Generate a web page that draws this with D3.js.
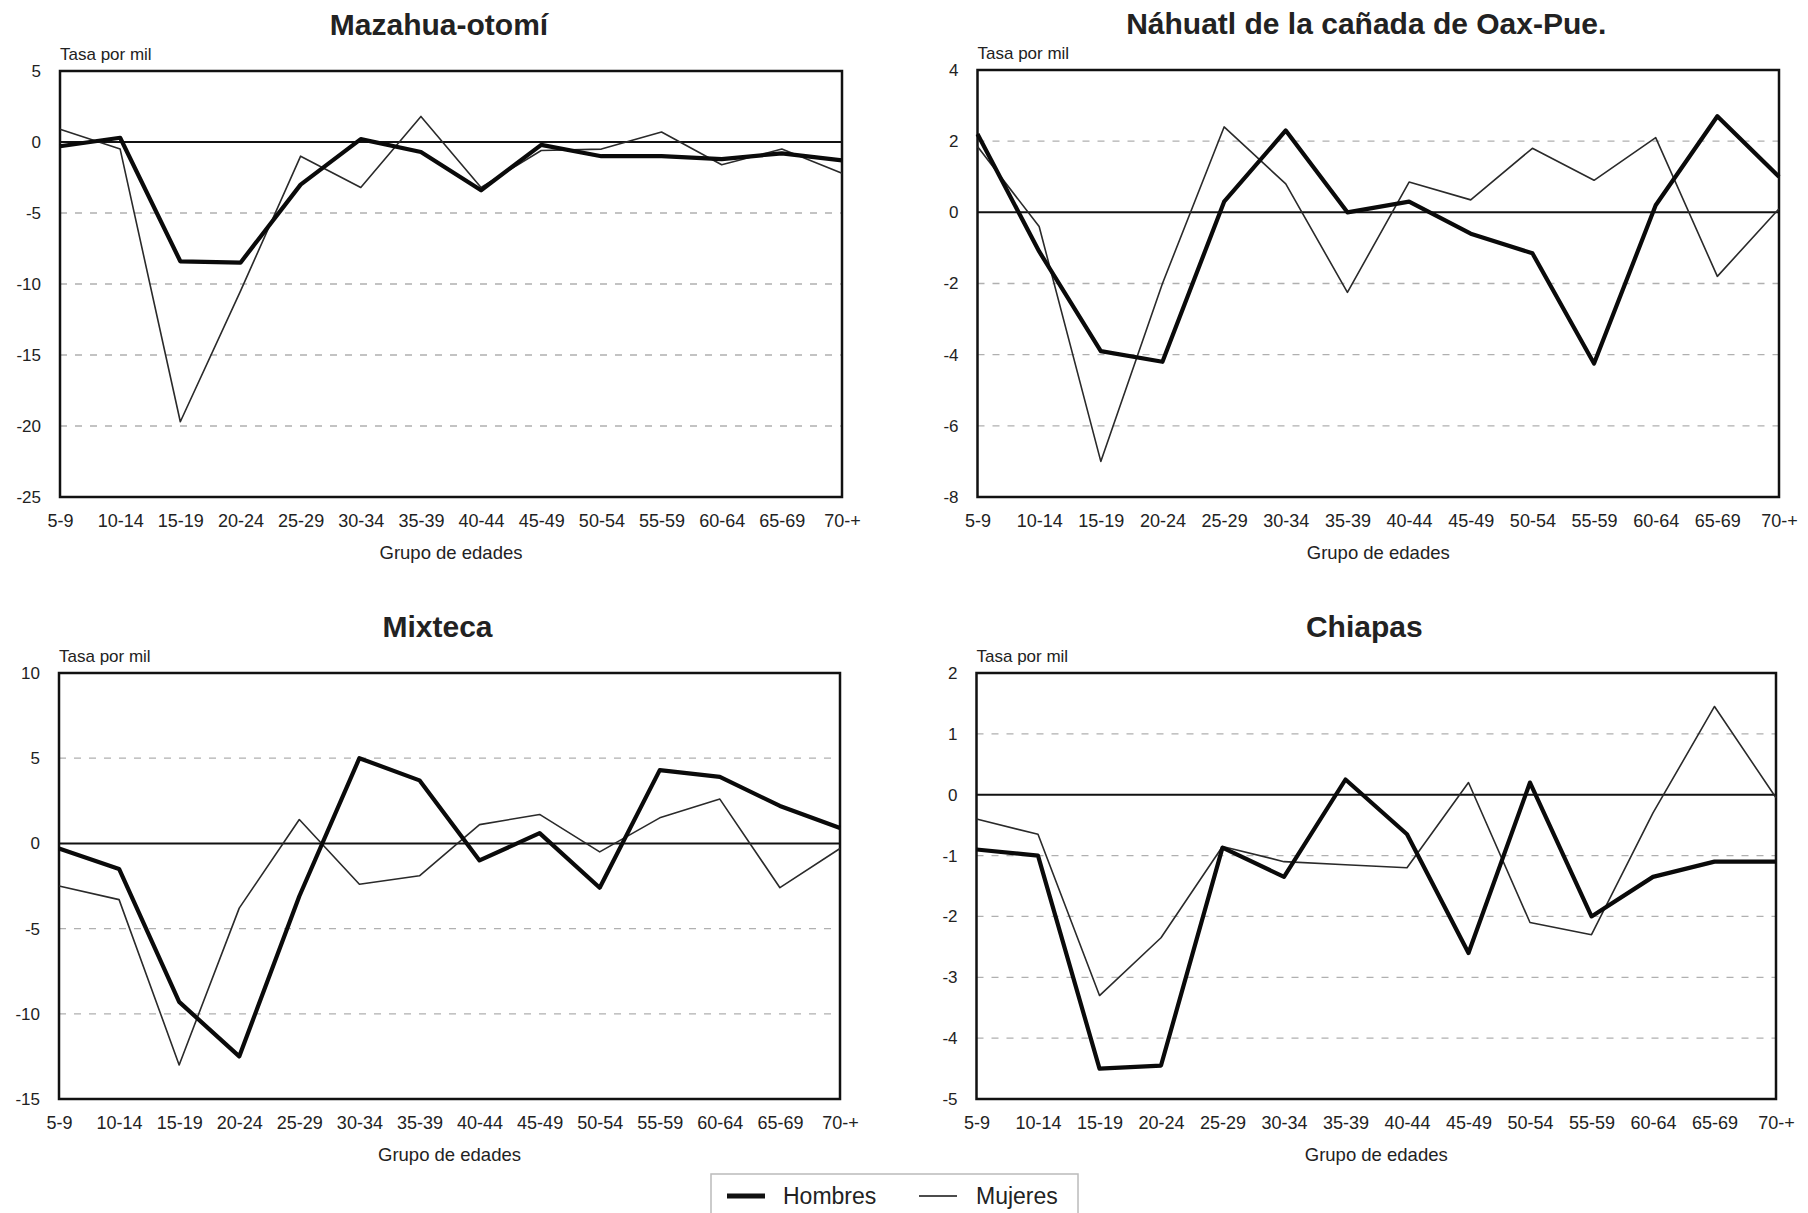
<!DOCTYPE html>
<html>
<head>
<meta charset="utf-8">
<script src="https://cdn.jsdelivr.net/npm/d3@7"></script>
<style>
  html, body { margin: 0; padding: 0; background: #fff; }
  svg { display: block; }
  text { font-family: "Liberation Sans", Arial, Helvetica, sans-serif; fill: #222; }
</style>
</head>
<body>
<svg id="chart" width="1808" height="1213"></svg>
<script>
// ---------- DATA ----------
const categories = ["5-9","10-14","15-19","20-24","25-29","30-34","35-39","40-44","45-49","50-54","55-59","60-64","65-69","70-+"];

const titles = ["Mazahua-otomí", "Náhuatl de la cañada de Oax-Pue.", "Mixteca", "Chiapas"];

const mazahuaHombres = [-0.3, 0.3, -8.4, -8.5, -3.0, 0.2, -0.7, -3.4, -0.2, -1.0, -1.0, -1.2, -0.8, -1.3];
const mazahuaMujeres = [0.9, -0.5, -19.7, -10.5, -1.0, -3.2, 1.8, -3.2, -0.6, -0.5, 0.7, -1.6, -0.5, -2.2];

const nahuatlHombres = [2.2, -1.1, -3.9, -4.2, 0.3, 2.3, 0.0, 0.3, -0.6, -1.15, -4.25, 0.2, 2.7, 1.0];
const nahuatlMujeres = [1.85, -0.4, -7.0, -2.0, 2.4, 0.8, -2.25, 0.85, 0.35, 1.8, 0.9, 2.1, -1.8, 0.1];

const mixtecaHombres = [-0.3, -1.5, -9.3, -12.5, -3.1, 5.0, 3.7, -1.0, 0.6, -2.6, 4.3, 3.9, 2.2, 0.9];
const mixtecaMujeres = [-2.5, -3.3, -13.0, -3.8, 1.4, -2.4, -1.9, 1.1, 1.7, -0.5, 1.5, 2.6, -2.6, -0.3];

const chiapasHombres = [-0.9, -1.0, -4.5, -4.45, -0.87, -1.35, 0.25, -0.65, -2.6, 0.2, -2.0, -1.35, -1.1, -1.1];
const chiapasMujeres = [-0.4, -0.65, -3.3, -2.35, -0.85, -1.1, -1.15, -1.2, 0.2, -2.1, -2.3, -0.3, 1.45, -0.05];

const yTicks1 = [5, 0, -5, -10, -15, -20, -25];
const yTicks2 = [4, 2, 0, -2, -4, -6, -8];
const yTicks3 = [10, 5, 0, -5, -10, -15];
const yTicks4 = [2, 1, 0, -1, -2, -3, -4, -5];

const seriesNames = ["Hombres", "Mujeres"];
const yLabel = "Tasa por mil";
const xLabel = "Grupo de edades";

// ---------- LAYOUT ----------
const panels = [
  { title: titles[0], h: mazahuaHombres, m: mazahuaMujeres, ticks: yTicks1, left: 60,   right: 842,  top: 71,  bottom: 497 },
  { title: titles[1], h: nahuatlHombres, m: nahuatlMujeres, ticks: yTicks2, left: 977.5, right: 1779, top: 70,  bottom: 497 },
  { title: titles[2], h: mixtecaHombres, m: mixtecaMujeres, ticks: yTicks3, left: 59,   right: 840,  top: 673, bottom: 1099 },
  { title: titles[3], h: chiapasHombres, m: chiapasMujeres, ticks: yTicks4, left: 976.5, right: 1776, top: 673, bottom: 1099 }
];

const svg = d3.select("#chart");

panels.forEach(p => {
  const g = svg.append("g");
  const x = d3.scalePoint().domain(categories).range([p.left, p.right]);
  const y = d3.scaleLinear().domain([d3.min(p.ticks), d3.max(p.ticks)]).range([p.bottom, p.top]);

  // dashed gridlines (except zero and extremes)
  g.selectAll("line.grid")
    .data(p.ticks.filter(t => t !== 0 && t !== d3.min(p.ticks) && t !== d3.max(p.ticks)))
    .join("line")
    .attr("x1", p.left).attr("x2", p.right)
    .attr("y1", d => y(d)).attr("y2", d => y(d))
    .attr("stroke", "#b0b0b0").attr("stroke-width", 1.3)
    .attr("stroke-dasharray", "7,8");

  // zero line
  g.append("line")
    .attr("x1", p.left).attr("x2", p.right)
    .attr("y1", y(0)).attr("y2", y(0))
    .attr("stroke", "#111").attr("stroke-width", 2);

  // y axis labels (hyphen-minus as in the original)
  const yAxis = d3.axisLeft(y).tickValues(p.ticks).tickSize(0).tickPadding(19).tickFormat(d => String(d));
  const ya = g.append("g").attr("transform", `translate(${p.left},0)`).call(yAxis);
  ya.select(".domain").remove();
  ya.selectAll("text").style("font-size", "17px").attr("fill", "#333")
    .style("font-family", '"Liberation Sans", Arial, sans-serif');

  // x axis labels
  const xAxis = d3.axisBottom(x).tickSize(0).tickPadding(17);
  const xa = g.append("g").attr("transform", `translate(0,${p.bottom})`).call(xAxis);
  xa.select(".domain").remove();
  xa.selectAll("text").style("font-size", "18px").attr("fill", "#333")
    .style("font-family", '"Liberation Sans", Arial, sans-serif');

  // frame
  g.append("rect")
    .attr("x", p.left).attr("y", p.top)
    .attr("width", p.right - p.left).attr("height", p.bottom - p.top)
    .attr("fill", "none").attr("stroke", "#111").attr("stroke-width", 2.5);

  const line = d3.line().x((d, i) => x(categories[i])).y(d => y(d));

  g.append("path").datum(p.m)
    .attr("d", line).attr("fill", "none")
    .attr("stroke", "#2a2a2a").attr("stroke-width", 1.6).attr("stroke-linejoin", "round");

  g.append("path").datum(p.h)
    .attr("d", line).attr("fill", "none")
    .attr("stroke", "#0a0a0a").attr("stroke-width", 4.2).attr("stroke-linejoin", "round");

  // titles
  g.append("text")
    .attr("x", (p.left + p.right) / 2 - 12).attr("y", p.top - 36)
    .attr("text-anchor", "middle")
    .style("font-size", "30px").style("font-weight", "bold")
    .text(p.title);

  g.append("text")
    .attr("x", p.left).attr("y", p.top - 11)
    .style("font-size", "17px").attr("fill", "#333")
    .text(yLabel);

  g.append("text")
    .attr("x", (p.left + p.right) / 2).attr("y", p.bottom + 62)
    .attr("text-anchor", "middle")
    .style("font-size", "18.5px").attr("fill", "#333")
    .text(xLabel);
});

// ---------- LEGEND ----------
const lg = svg.append("g");
lg.append("rect")
  .attr("x", 711).attr("y", 1174).attr("width", 367).attr("height", 60)
  .attr("fill", "#fff").attr("stroke", "#bbb").attr("stroke-width", 1.5);

const legendItems = [
  { name: seriesNames[0], x1: 727, x2: 765, tx: 783, w: 5 },
  { name: seriesNames[1], x1: 919, x2: 957, tx: 976, w: 1.6 }
];
legendItems.forEach(it => {
  lg.append("line").attr("x1", it.x1).attr("x2", it.x2).attr("y1", 1196).attr("y2", 1196)
    .attr("stroke", "#111").attr("stroke-width", it.w);
  lg.append("text").attr("x", it.tx).attr("y", 1204)
    .style("font-size", "23px").text(it.name);
});
</script>
</body>
</html>
